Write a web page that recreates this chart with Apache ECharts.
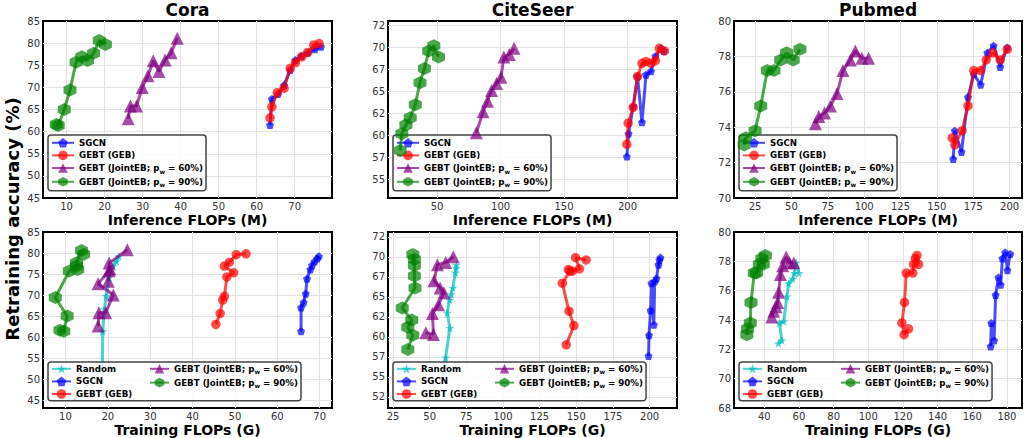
<!DOCTYPE html>
<html>
<head>
<meta charset="utf-8">
<script src="https://cdn.jsdelivr.net/npm/echarts@6/dist/echarts.min.js"></script>
<style>
  html, body { margin: 0; padding: 0; background: #fff; }
  #chart { width: 1024px; height: 438px; }
</style>
</head>
<body>
<div id="chart"></div>
<script>
// [FLOPs, accuracy] pairs
const coraInfSgcn = [[63.5, 61.5], [64.0, 67.4], [65.6, 68.5], [67.2, 70.5], [68.8, 73.9], [70.2, 76.2], [71.8, 77.1], [73.4, 77.8], [75.3, 78.6], [76.9, 79.2]];
const coraInfGeb = [[63.5, 63.1], [64.0, 65.6], [65.4, 68.8], [67.2, 69.8], [68.8, 74.3], [70.2, 75.6], [71.8, 76.9], [73.4, 77.9], [75.0, 79.6], [76.4, 79.9]];
const coraInfP60 = [[26.2, 62.9], [26.8, 65.8], [28.4, 65.8], [29.9, 70.0], [31.4, 72.6], [32.8, 76.0], [34.3, 73.6], [35.9, 76.2], [37.5, 77.8], [39.1, 81.1]];
const coraInfP90 = [[7.3, 61.6], [7.8, 61.4], [9.4, 65.0], [10.9, 69.4], [12.5, 75.7], [14.0, 76.9], [15.5, 76.1], [17.1, 77.7], [18.6, 80.6], [20.2, 79.7]];

const citeInfSgcn = [[199.5, 57.6], [200.8, 60.2], [204.5, 63.3], [207.9, 66.7], [211.4, 61.5], [214.6, 66.9], [218.5, 67.3], [222.0, 69.0], [226.5, 69.9], [228.6, 69.6]];
const citeInfGeb = [[199.5, 59.0], [200.5, 61.4], [204.5, 63.2], [207.9, 66.7], [211.4, 68.2], [214.6, 68.4], [218.5, 68.2], [222.0, 68.5], [225.1, 69.9], [229.1, 69.6]];
const citeInfP60 = [[80.9, 60.3], [86.2, 62.7], [89.7, 63.9], [92.9, 65.1], [96.8, 65.9], [100.3, 66.6], [102.6, 68.9], [106.9, 69.2], [110.6, 69.9]];
const citeInfP90 = [[20.9, 58.3], [22.2, 60.2], [25.4, 61.2], [28.8, 62.0], [32.8, 63.5], [36.5, 66.0], [40.0, 67.6], [43.4, 69.6], [47.4, 70.2], [51.1, 68.9]];

const pubInfSgcn = [[161.2, 72.2], [162.3, 73.8], [166.9, 72.6], [171.4, 75.7], [175.3, 77.0], [180.1, 76.4], [184.7, 78.2], [189.0, 78.6], [193.5, 77.4], [198.4, 78.5]];
const pubInfGeb = [[160.5, 73.4], [162.3, 73.0], [167.3, 73.8], [171.4, 75.2], [175.3, 77.2], [180.1, 77.2], [183.9, 77.8], [188.5, 78.2], [193.5, 77.8], [198.4, 78.4]];
const pubInfP60 = [[66.5, 74.2], [68.8, 74.6], [72.7, 74.8], [76.8, 75.2], [81.3, 75.9], [85.4, 77.2], [90.5, 77.8], [93.9, 78.3], [98.4, 77.9], [103.0, 77.9]];
const pubInfP90 = [[17.5, 73.0], [18.6, 73.4], [25.0, 73.8], [28.9, 75.2], [33.4, 77.2], [38.0, 77.2], [42.6, 77.8], [46.7, 78.2], [51.2, 77.8], [55.8, 78.4]];

const coraTrRandom = [[18.7, 52.0], [18.8, 61.4], [19.2, 66.6], [19.6, 69.7], [20.3, 74.1], [20.7, 75.7], [21.2, 76.9], [22.0, 78.0], [22.6, 79.2]];
const coraTrSgcn = [[65.6, 61.4], [65.6, 67.0], [66.2, 68.2], [66.7, 70.3], [67.0, 73.9], [67.8, 76.1], [68.2, 77.1], [68.8, 78.0], [69.4, 78.7], [69.8, 79.2]];
const coraTrGeb = [[45.5, 63.0], [46.5, 65.6], [47.1, 68.8], [47.5, 69.7], [48.1, 74.3], [49.7, 75.3], [47.5, 76.9], [48.7, 77.8], [50.3, 79.6], [52.6, 79.8]];
const coraTrP60 = [[17.7, 62.6], [17.9, 65.8], [19.5, 65.8], [21.3, 70.0], [17.7, 72.7], [20.3, 75.8], [20.1, 73.3], [20.5, 76.2], [20.3, 77.6], [24.6, 80.8]];
const coraTrP90 = [[8.7, 61.6], [9.6, 61.4], [10.4, 65.0], [7.6, 69.4], [10.9, 75.7], [12.6, 76.9], [12.9, 76.1], [12.6, 77.7], [13.8, 80.6], [14.3, 79.7]];

const citeTrRandom = [[59.8, 55.5], [60.9, 57.4], [63.8, 61.1], [62.0, 63.0], [63.6, 64.6], [64.7, 65.3], [65.8, 66.1], [67.6, 68.0], [68.3, 69.0], [68.1, 68.6]];
const citeTrSgcn = [[199.3, 57.6], [199.6, 60.2], [200.7, 63.3], [201.3, 66.7], [202.9, 61.5], [203.5, 66.9], [204.7, 67.3], [206.1, 69.0], [207.4, 69.9], [206.7, 69.6]];
const citeTrGeb = [[143.2, 59.0], [148.4, 61.4], [145.0, 63.2], [140.5, 66.7], [145.7, 68.2], [144.6, 68.4], [147.3, 68.2], [152.2, 68.5], [149.5, 69.9], [156.7, 69.6]];
const citeTrP60 = [[47.4, 60.5], [52.6, 60.3], [51.9, 62.9], [56.0, 64.0], [59.7, 65.5], [57.1, 66.1], [53.0, 67.0], [55.3, 69.0], [60.9, 69.3], [66.1, 70.0]];
const citeTrP90 = [[35.1, 58.4], [38.5, 60.2], [35.1, 61.2], [37.8, 62.1], [31.3, 63.6], [40.0, 66.1], [39.6, 67.6], [39.6, 69.7], [38.5, 70.3], [39.6, 68.9]];

const pubTrRandom = [[48.1, 72.4], [50.1, 72.6], [48.7, 73.8], [51.2, 73.9], [53.0, 75.6], [54.1, 76.5], [56.4, 76.8], [57.4, 77.2], [58.4, 77.9], [60.0, 77.2]];
const pubTrSgcn = [[170.6, 72.2], [171.0, 73.8], [172.6, 72.6], [173.5, 75.7], [175.1, 76.9], [176.4, 76.4], [177.4, 78.2], [179.0, 78.6], [180.3, 77.4], [181.9, 78.5]];
const pubTrGeb = [[123.2, 73.4], [120.7, 73.0], [119.4, 73.8], [120.9, 75.2], [121.9, 77.2], [125.7, 77.2], [126.1, 77.8], [127.1, 78.2], [129.0, 77.8], [128.1, 78.4]];
const pubTrP60 = [[44.3, 74.2], [45.4, 74.6], [46.8, 74.9], [47.7, 75.2], [48.3, 75.9], [49.3, 77.1], [50.6, 77.7], [52.6, 78.3], [54.5, 77.9], [57.0, 77.9]];
const pubTrP90 = [[29.9, 73.0], [30.3, 73.4], [31.9, 73.8], [32.3, 75.2], [34.2, 77.2], [35.5, 77.2], [37.1, 77.8], [38.6, 78.2], [39.4, 77.8], [40.6, 78.4]];

const titles = ["Cora", "CiteSeer", "Pubmed"];
const xNames = ["Inference FLOPs (M)", "Training FLOPs (G)"];
const yName = "Retraining accuracy (%)";
const names = ["Random", "SGCN", "GEBT (GEB)", "GEBT (JointEB; p_w = 60%)", "GEBT (JointEB; p_w = 90%)"];

// panel axis limits [min, max, step]
const xLims = [[3.8, 79.8, 10], [11.3, 239, 50], [10.5, 208.5, 25], [4.7, 72.9, 10], [21.6, 218.7, 25], [22.5, 188.7, 20]];
const yLims = [[45, 85, 5], [52.9, 73.0, 2.5], [70, 80, 2], [43.1, 85, 5], [51.1, 73.1, 2.5], [68, 80, 2]];

const panels = [
  [null, coraInfSgcn, coraInfGeb, coraInfP60, coraInfP90],
  [null, citeInfSgcn, citeInfGeb, citeInfP60, citeInfP90],
  [null, pubInfSgcn, pubInfGeb, pubInfP60, pubInfP90],
  [coraTrRandom, coraTrSgcn, coraTrGeb, coraTrP60, coraTrP90],
  [citeTrRandom, citeTrSgcn, citeTrGeb, citeTrP60, citeTrP90],
  [pubTrRandom, pubTrSgcn, pubTrGeb, pubTrP60, pubTrP90],
];

const FONT = "DejaVu Sans";
const HEX = "path://M50,0 L93.3,25 L93.3,75 L50,100 L6.7,75 L6.7,25 Z";
const PENT = "path://M50,0 L97.6,34.5 L79.4,90.5 L20.6,90.5 L2.4,34.5 Z";
const STAR = "path://M50,0 L61.8,35.5 L99,35.5 L69,57.5 L80.5,93 L50,71 L19.5,93 L31,57.5 L1,35.5 L38.2,35.5 Z";
const styles = [
  { color: "rgba(0,191,191,0.7)", symbol: STAR, size: 9 },
  { color: "rgba(0,0,255,0.7)", symbol: PENT, size: 8 },
  { color: "rgba(255,0,0,0.7)", symbol: "circle", size: 9.5 },
  { color: "rgba(128,0,128,0.7)", symbol: "triangle", size: 13 },
  { color: "rgba(0,128,0,0.7)", symbol: HEX, size: 13 },
];

const gridLeft = [43, 388, 734];
const gridTop = [21, 232];
const W = [289, 289, 288];
const H = 177;

const chart = echarts.init(document.getElementById("chart"), null, { renderer: "svg" });

const grids = [], xAxes = [], yAxes = [], series = [], legends = [];
const LF = 8.7;
const richText = {
  t: { fontFamily: FONT, fontWeight: "bold", fontSize: LF, color: "#000", lineHeight: 12 },
  s: { fontFamily: FONT, fontWeight: "bold", fontSize: 6, color: "#000", verticalAlign: "bottom", lineHeight: 6 },
  c1: { fontFamily: FONT, fontWeight: "bold", fontSize: LF, color: "#000", width: 70, lineHeight: 12 },
};
function legendLabel(name, padCol1) {
  if (name.includes("p_w")) {
    const [a, b] = name.split("p_w");
    return "{t|" + a + "p}{s|w}{t|" + b + "}";
  }
  return padCol1 ? "{c1|" + name + "}" : "{t|" + name + "}";
}
const legendBase = {
  orient: "vertical", itemHeight: 12, itemGap: 3,
  backgroundColor: "rgba(255,255,255,0.85)", borderColor: "#444", borderWidth: 1.5, borderRadius: 3,
  selectedMode: false,
  textStyle: { fontFamily: FONT, fontWeight: "bold", fontSize: LF, color: "#000", rich: richText },
};

for (let p = 0; p < 6; p++) {
  const col = p % 3, row = Math.floor(p / 3);
  grids.push({ left: gridLeft[col], top: gridTop[row], width: W[col], height: H, show: true, borderColor: "#000", borderWidth: 2 });
  const [x0, x1, xs] = xLims[p];
  const [y0, y1, ys] = yLims[p];
  const yEdgeTick = (v) => Math.abs(v / ys - Math.round(v / ys)) < 1e-6;
  xAxes.push({
    type: "value", gridIndex: p, min: x0, max: x1, minInterval: xs, maxInterval: xs,
    name: xNames[row], nameLocation: "middle", nameGap: 15,
    nameTextStyle: { fontFamily: FONT, fontWeight: "bold", fontSize: 14, color: "#000" },
    axisLine: { show: false }, axisTick: { show: false },
    axisLabel: { fontFamily: FONT, fontSize: 10, color: "#333", margin: 3, showMinLabel: false, showMaxLabel: false },
    splitLine: { show: true, showMinLine: false, showMaxLine: false, lineStyle: { color: "#e3e3e3", width: 1 } },
  });
  yAxes.push({
    type: "value", gridIndex: p, min: y0, max: y1, minInterval: ys, maxInterval: ys,
    axisLine: { show: false }, axisTick: { show: false },
    axisLabel: {
      fontFamily: FONT, fontSize: 10, color: "#333", margin: 3,
      showMinLabel: yEdgeTick(y0), showMaxLabel: yEdgeTick(y1),
      formatter: (v) => String(Math.floor(v + 1e-9)),
    },
    splitLine: { show: true, showMinLine: false, showMaxLine: false, lineStyle: { color: "#e3e3e3", width: 1 } },
  });
  panels[p].forEach((data, k) => {
    if (!data) return;
    const st = styles[k];
    series.push({
      type: "line", name: names[k], xAxisIndex: p, yAxisIndex: p, data: data,
      symbol: st.symbol, symbolSize: st.size, showSymbol: true, showAllSymbol: true,
      lineStyle: { color: st.color, width: 3 },
      itemStyle: { color: st.color, borderWidth: 0 },
      emphasis: { disabled: true }, animation: false, z: 2 + k,
    });
  });
  const legendLeft = gridLeft[col] + 5;
  if (row === 0) {
    legends.push(Object.assign({}, legendBase, {
      data: names.slice(1), left: legendLeft, top: 135,
      itemWidth: 22, padding: [3, 3, 3, 3],
      formatter: (n) => legendLabel(n, false),
    }));
  } else {
    legends.push(Object.assign({}, legendBase, {
      data: names, left: legendLeft, top: 362, height: 46,
      itemWidth: 19, padding: [2, 3, 2, 3],
      formatter: (n) => legendLabel(n, true),
    }));
  }
}

const graphics = titles.map((t, i) => ({
  type: "text", x: gridLeft[i] + W[i] / 2, y: 10, silent: true,
  style: { text: t, font: "bold 17px " + FONT, fill: "#000", align: "center", verticalAlign: "middle", textAlign: "center", textVerticalAlign: "middle" },
}));
graphics.push({
  type: "text", x: 12, y: 219, rotation: Math.PI / 2, silent: true,
  style: { text: yName, font: "bold 18px " + FONT, fill: "#000", align: "center", verticalAlign: "middle", textAlign: "center", textVerticalAlign: "middle" },
});

chart.setOption({
  animation: false,
  backgroundColor: "#fff",
  grid: grids,
  xAxis: xAxes,
  yAxis: yAxes,
  legend: legends,
  graphic: graphics,
  series: series,
});
</script>
</body>
</html>
